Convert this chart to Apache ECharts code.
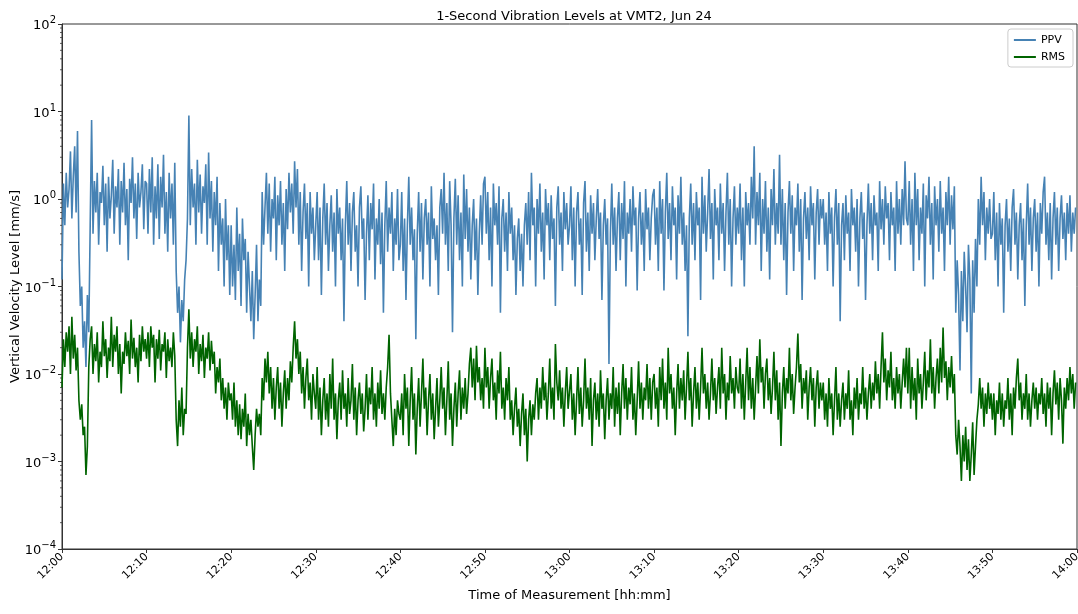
<!DOCTYPE html>
<html>
<head>
<meta charset="utf-8">
<script src="https://cdn.jsdelivr.net/npm/echarts@6/dist/echarts.min.js"></script>
<style>
  html, body { margin: 0; padding: 0; background: #fff; }
  #main { width: 1078px; height: 614px; }
</style>
</head>
<body>
<div id="main"></div>
<script>
// one reading every 10 s, 60 readings per 10-minute block
var stepSec = 10;
var blockSec = 600;

var ppv1200 = [0.12, 1.5, 0.5, 2.0, 0.8, 1.3, 3.5, 0.6, 1.8, 4.0, 0.7, 6.0, 0.25, 0.06, 0.1, 0.02, 0.04, 0.012, 0.08, 0.03, 0.5, 8.0, 0.4, 1.6, 0.7, 2.0, 0.3, 1.2, 0.9, 2.4, 0.5, 1.5, 0.25, 1.8, 0.6, 1.1, 2.8, 0.4, 1.4, 0.8, 2.2, 0.3, 1.6, 0.7, 2.6, 0.5, 1.3, 0.2, 1.7, 0.9, 3.0, 0.6, 1.5, 0.35, 2.0, 0.8, 1.2, 2.5, 0.45, 1.6];
var ppv1210 = [1.5, 0.4, 2.2, 0.7, 3.0, 0.3, 1.4, 0.6, 2.5, 0.35, 1.8, 0.8, 3.2, 0.4, 1.2, 0.25, 2.0, 0.6, 1.5, 0.3, 2.6, 0.15, 0.05, 0.1, 0.023, 0.07, 0.04, 0.12, 0.2, 0.6, 9.0, 0.5, 2.2, 0.8, 1.5, 0.3, 2.8, 0.7, 1.9, 0.4, 1.4, 0.9, 2.5, 0.3, 3.4, 0.6, 1.6, 0.25, 1.2, 0.5, 1.8, 0.15, 0.9, 0.3, 0.6, 0.1, 1.0, 0.2, 0.5, 0.08];
var ppv1220 = [0.5, 0.1, 0.3, 0.07, 0.8, 0.15, 0.4, 0.06, 0.6, 0.2, 0.35, 0.05, 0.25, 0.1, 0.04, 0.15, 0.025, 0.08, 0.3, 0.04, 0.12, 0.06, 1.2, 0.3, 0.8, 2.0, 0.4, 1.5, 0.25, 1.0, 0.6, 1.8, 0.2, 1.1, 0.5, 1.6, 0.3, 0.9, 0.15, 1.3, 0.45, 2.0, 0.7, 1.5, 0.4, 2.7, 0.8, 2.2, 0.3, 1.2, 0.15, 0.7, 1.5, 0.35, 0.9, 0.1, 1.2, 0.4, 0.8, 0.2];
var ppv1230 = [0.5, 1.2, 0.2, 0.8, 0.08, 0.6, 1.5, 0.3, 0.9, 0.15, 0.5, 1.1, 0.25, 0.7, 0.1, 1.3, 0.4, 0.8, 0.2, 0.6, 0.04, 0.5, 1.6, 0.3, 0.9, 0.15, 0.7, 1.2, 0.25, 0.5, 0.1, 0.8, 1.4, 0.35, 0.6, 0.07, 0.4, 1.1, 0.2, 0.9, 0.45, 1.5, 0.12, 0.6, 0.3, 1.0, 0.18, 0.7, 0.05, 0.5, 1.6, 0.25, 0.8, 0.4, 1.2, 0.15, 0.6, 0.3, 1.3, 0.2];
var ppv1240 = [0.3, 1.2, 0.15, 0.6, 0.07, 0.5, 1.8, 0.3, 0.8, 0.2, 0.45, 0.025, 0.4, 1.2, 0.25, 0.9, 0.12, 0.6, 1.0, 0.3, 0.7, 0.1, 1.4, 0.35, 0.6, 0.2, 0.5, 0.08, 0.8, 1.3, 0.4, 2.0, 0.3, 0.9, 0.15, 1.6, 0.5, 0.03, 0.6, 1.7, 0.3, 1.1, 0.2, 0.7, 0.1, 1.9, 0.35, 1.3, 0.25, 0.8, 0.12, 0.5, 1.0, 0.2, 0.6, 0.08, 0.4, 1.1, 0.3, 1.5];
var ppv1250 = [1.8, 0.4, 1.2, 0.2, 0.8, 0.1, 1.5, 0.5, 0.9, 0.3, 1.4, 0.05, 0.6, 1.0, 0.25, 0.7, 0.15, 1.2, 0.4, 0.8, 0.2, 0.5, 0.08, 0.35, 0.6, 0.15, 0.4, 0.1, 0.5, 0.9, 0.3, 1.2, 0.2, 2.0, 0.5, 0.8, 0.1, 1.0, 0.4, 1.5, 0.25, 0.7, 0.12, 1.3, 0.5, 0.9, 0.2, 1.1, 0.35, 0.6, 0.06, 0.8, 1.4, 0.3, 0.7, 0.15, 1.2, 0.45, 0.9, 0.3];
var ppv1300 = [0.5, 1.4, 0.2, 0.8, 0.1, 0.7, 1.2, 0.3, 0.6, 0.08, 0.9, 1.6, 0.25, 0.7, 0.15, 1.1, 0.4, 0.9, 0.2, 0.6, 1.3, 0.35, 0.7, 0.07, 0.5, 1.0, 0.3, 0.6, 0.013, 0.4, 1.5, 0.3, 0.8, 0.15, 0.6, 1.2, 0.2, 0.9, 0.35, 1.6, 0.1, 0.7, 0.4, 1.0, 0.25, 1.4, 0.5, 0.8, 0.09, 0.6, 1.2, 0.3, 0.7, 0.15, 1.3, 0.45, 0.8, 0.2, 0.6, 1.1];
var ppv1310 = [1.3, 0.3, 0.8, 0.15, 1.6, 0.4, 1.0, 0.09, 0.7, 2.0, 0.35, 0.9, 0.2, 1.4, 0.5, 0.8, 0.12, 1.1, 0.4, 1.8, 0.3, 0.7, 0.15, 0.5, 0.027, 0.6, 1.5, 0.3, 0.9, 0.2, 1.2, 0.5, 0.8, 0.07, 1.8, 0.4, 1.1, 0.25, 0.7, 2.2, 0.35, 0.9, 0.12, 1.3, 0.5, 0.8, 0.2, 1.5, 0.4, 0.9, 0.15, 0.7, 2.0, 0.3, 1.0, 0.1, 0.6, 1.4, 0.3, 0.8];
var ppv1320 = [0.4, 1.5, 0.2, 0.8, 0.1, 1.2, 0.5, 0.9, 0.3, 1.8, 0.6, 4.0, 0.3, 1.2, 0.5, 2.0, 0.15, 1.0, 0.4, 1.6, 0.25, 0.8, 0.12, 1.3, 0.5, 2.2, 0.3, 0.9, 0.4, 3.2, 0.3, 1.3, 0.2, 0.9, 0.08, 0.7, 1.6, 0.4, 1.1, 0.15, 0.8, 0.5, 1.5, 0.25, 1.0, 0.07, 0.6, 1.2, 0.35, 0.8, 0.2, 1.4, 0.5, 0.9, 0.12, 0.7, 1.3, 0.3, 1.0, 0.6];
var ppv1330 = [1.0, 0.3, 0.7, 0.15, 1.2, 0.4, 0.8, 0.1, 0.6, 1.3, 0.3, 0.9, 0.04, 0.5, 0.9, 0.2, 1.1, 0.4, 0.7, 0.15, 1.3, 0.5, 0.8, 0.25, 1.0, 0.1, 0.6, 1.2, 0.35, 0.7, 0.07, 0.5, 1.5, 0.4, 0.9, 0.2, 1.1, 0.5, 0.7, 0.15, 1.6, 0.45, 1.0, 0.3, 1.4, 0.6, 0.9, 0.2, 1.2, 0.5, 0.8, 0.15, 1.6, 0.4, 1.0, 0.3, 1.3, 0.5, 2.7, 0.6];
var ppv1340 = [0.5, 1.6, 0.3, 1.0, 0.15, 2.0, 0.5, 1.3, 0.2, 0.8, 0.4, 1.5, 0.1, 1.1, 0.6, 1.8, 0.3, 0.9, 0.12, 1.4, 0.5, 1.0, 0.25, 1.6, 0.4, 0.8, 0.15, 1.2, 0.5, 1.8, 0.3, 1.1, 0.45, 1.4, 0.05, 0.2, 0.08, 0.011, 0.15, 0.04, 0.25, 0.1, 0.03, 0.3, 0.12, 0.006, 0.2, 0.05, 0.35, 0.1, 1.0, 0.3, 1.8, 0.5, 1.2, 0.2, 0.8, 0.4, 1.0, 0.35];
var ppv1350 = [0.4, 1.2, 0.2, 0.7, 0.1, 0.9, 0.3, 0.6, 0.05, 0.5, 1.0, 0.25, 0.6, 0.15, 0.8, 1.3, 0.3, 0.7, 0.12, 0.5, 0.9, 0.2, 0.6, 0.06, 0.5, 1.5, 0.3, 0.8, 0.15, 0.6, 1.0, 0.25, 0.7, 0.1, 0.9, 0.4, 1.2, 1.8, 0.3, 0.7, 0.2, 0.9, 0.12, 0.6, 1.2, 0.3, 0.8, 0.15, 0.6, 1.1, 0.35, 0.7, 0.2, 0.9, 0.4, 1.1, 0.25, 0.7, 0.4, 0.8];

var rms1200 = [0.007, 0.025, 0.012, 0.03, 0.018, 0.035, 0.01, 0.045, 0.015, 0.028, 0.011, 0.02, 0.005, 0.003, 0.0045, 0.002, 0.0025, 0.0007, 0.0015, 0.012, 0.025, 0.035, 0.01, 0.022, 0.014, 0.03, 0.008, 0.018, 0.012, 0.04, 0.016, 0.025, 0.009, 0.02, 0.014, 0.045, 0.012, 0.028, 0.018, 0.035, 0.01, 0.022, 0.006, 0.018, 0.013, 0.03, 0.016, 0.024, 0.01, 0.042, 0.015, 0.026, 0.012, 0.02, 0.008, 0.028, 0.014, 0.035, 0.018, 0.025];
var rms1210 = [0.015, 0.03, 0.012, 0.035, 0.02, 0.028, 0.008, 0.025, 0.015, 0.032, 0.011, 0.022, 0.018, 0.03, 0.009, 0.025, 0.014, 0.02, 0.012, 0.03, 0.016, 0.003, 0.0015, 0.005, 0.0025, 0.007, 0.002, 0.004, 0.0035, 0.02, 0.055, 0.015, 0.03, 0.012, 0.025, 0.018, 0.035, 0.01, 0.022, 0.014, 0.028, 0.009, 0.02, 0.015, 0.03, 0.011, 0.024, 0.013, 0.018, 0.006, 0.012, 0.008, 0.015, 0.005, 0.009, 0.004, 0.007, 0.003, 0.008, 0.005];
var rms1220 = [0.006, 0.003, 0.008, 0.0025, 0.005, 0.002, 0.0045, 0.0018, 0.004, 0.0025, 0.006, 0.0015, 0.0035, 0.002, 0.003, 0.0015, 0.0008, 0.002, 0.004, 0.0025, 0.0035, 0.002, 0.009, 0.005, 0.015, 0.008, 0.018, 0.006, 0.012, 0.004, 0.009, 0.003, 0.007, 0.012, 0.004, 0.008, 0.0025, 0.006, 0.011, 0.004, 0.009, 0.005, 0.014, 0.008, 0.02, 0.04, 0.015, 0.025, 0.01, 0.018, 0.006, 0.012, 0.004, 0.009, 0.015, 0.005, 0.008, 0.003, 0.01, 0.006];
var rms1230 = [0.004, 0.012, 0.003, 0.007, 0.002, 0.005, 0.009, 0.003, 0.006, 0.0025, 0.01, 0.004, 0.015, 0.003, 0.006, 0.0018, 0.005, 0.008, 0.003, 0.011, 0.004, 0.006, 0.0025, 0.009, 0.0035, 0.005, 0.013, 0.003, 0.007, 0.002, 0.005, 0.008, 0.0035, 0.006, 0.0022, 0.004, 0.01, 0.003, 0.007, 0.0045, 0.012, 0.003, 0.006, 0.0025, 0.008, 0.004, 0.011, 0.0035, 0.006, 0.003, 0.007, 0.012, 0.028, 0.006, 0.003, 0.0015, 0.004, 0.002, 0.005, 0.0035];
var rms1240 = [0.003, 0.006, 0.002, 0.01, 0.004, 0.007, 0.0015, 0.005, 0.012, 0.003, 0.006, 0.0012, 0.004, 0.009, 0.0025, 0.006, 0.015, 0.004, 0.007, 0.002, 0.005, 0.01, 0.003, 0.006, 0.0018, 0.004, 0.009, 0.0025, 0.005, 0.012, 0.004, 0.007, 0.002, 0.005, 0.014, 0.003, 0.006, 0.0015, 0.004, 0.008, 0.0025, 0.006, 0.011, 0.003, 0.007, 0.004, 0.009, 0.0035, 0.006, 0.013, 0.02, 0.007, 0.015, 0.005, 0.021, 0.008, 0.012, 0.005, 0.009, 0.004];
var rms1250 = [0.02, 0.007, 0.012, 0.004, 0.009, 0.015, 0.005, 0.008, 0.003, 0.011, 0.006, 0.018, 0.004, 0.007, 0.003, 0.009, 0.005, 0.012, 0.003, 0.005, 0.002, 0.004, 0.007, 0.0025, 0.004, 0.0015, 0.0035, 0.006, 0.002, 0.004, 0.001, 0.003, 0.005, 0.002, 0.0045, 0.003, 0.006, 0.009, 0.003, 0.007, 0.004, 0.012, 0.005, 0.008, 0.003, 0.006, 0.015, 0.004, 0.007, 0.003, 0.022, 0.008, 0.005, 0.011, 0.004, 0.007, 0.0025, 0.006, 0.012, 0.004];
var rms1300 = [0.004, 0.01, 0.003, 0.006, 0.002, 0.005, 0.012, 0.0035, 0.007, 0.0025, 0.005, 0.015, 0.004, 0.007, 0.003, 0.009, 0.0015, 0.005, 0.008, 0.003, 0.006, 0.0025, 0.011, 0.004, 0.006, 0.0018, 0.005, 0.009, 0.003, 0.006, 0.004, 0.012, 0.0025, 0.007, 0.0035, 0.008, 0.002, 0.006, 0.013, 0.004, 0.009, 0.003, 0.007, 0.0045, 0.012, 0.003, 0.006, 0.002, 0.005, 0.014, 0.004, 0.008, 0.003, 0.007, 0.005, 0.013, 0.004, 0.009, 0.003, 0.008];
var rms1310 = [0.01, 0.004, 0.007, 0.0025, 0.012, 0.005, 0.015, 0.004, 0.008, 0.003, 0.02, 0.006, 0.01, 0.004, 0.007, 0.002, 0.006, 0.013, 0.004, 0.009, 0.005, 0.011, 0.003, 0.007, 0.018, 0.005, 0.009, 0.0025, 0.006, 0.012, 0.004, 0.008, 0.003, 0.007, 0.02, 0.006, 0.01, 0.004, 0.008, 0.003, 0.006, 0.015, 0.005, 0.009, 0.0035, 0.007, 0.012, 0.004, 0.02, 0.006, 0.01, 0.003, 0.008, 0.005, 0.016, 0.006, 0.009, 0.004, 0.012, 0.007];
var rms1320 = [0.006, 0.015, 0.004, 0.01, 0.003, 0.008, 0.02, 0.005, 0.012, 0.004, 0.009, 0.003, 0.007, 0.016, 0.006, 0.025, 0.008, 0.012, 0.004, 0.01, 0.015, 0.005, 0.009, 0.0035, 0.007, 0.018, 0.005, 0.011, 0.003, 0.008, 0.0015, 0.006, 0.012, 0.004, 0.009, 0.006, 0.02, 0.005, 0.01, 0.0035, 0.007, 0.012, 0.029, 0.008, 0.013, 0.004, 0.009, 0.006, 0.011, 0.003, 0.007, 0.012, 0.005, 0.009, 0.0025, 0.007, 0.011, 0.004, 0.008, 0.005];
var rms1330 = [0.008, 0.003, 0.006, 0.0025, 0.009, 0.004, 0.006, 0.002, 0.005, 0.012, 0.003, 0.006, 0.0025, 0.005, 0.008, 0.003, 0.006, 0.004, 0.011, 0.003, 0.005, 0.002, 0.007, 0.004, 0.009, 0.003, 0.006, 0.0045, 0.012, 0.004, 0.007, 0.003, 0.006, 0.01, 0.004, 0.008, 0.005, 0.014, 0.006, 0.01, 0.004, 0.012, 0.03, 0.008, 0.015, 0.005, 0.011, 0.007, 0.018, 0.005, 0.009, 0.004, 0.012, 0.006, 0.01, 0.004, 0.008, 0.015, 0.007, 0.02];
var rms1340 = [0.006, 0.02, 0.004, 0.012, 0.005, 0.009, 0.003, 0.015, 0.006, 0.01, 0.004, 0.008, 0.018, 0.005, 0.011, 0.007, 0.025, 0.006, 0.012, 0.004, 0.009, 0.015, 0.006, 0.02, 0.008, 0.034, 0.009, 0.014, 0.005, 0.012, 0.007, 0.016, 0.006, 0.01, 0.002, 0.0012, 0.003, 0.0015, 0.0006, 0.002, 0.001, 0.0025, 0.0008, 0.0018, 0.0006, 0.0012, 0.0028, 0.0007, 0.0015, 0.003, 0.0045, 0.009, 0.004, 0.007, 0.0025, 0.006, 0.0035, 0.008, 0.004, 0.006];
var rms1350 = [0.003, 0.006, 0.002, 0.005, 0.0035, 0.008, 0.003, 0.006, 0.0025, 0.005, 0.004, 0.009, 0.003, 0.006, 0.002, 0.007, 0.004, 0.009, 0.015, 0.005, 0.008, 0.003, 0.006, 0.004, 0.01, 0.003, 0.006, 0.0025, 0.005, 0.008, 0.004, 0.007, 0.003, 0.006, 0.0045, 0.009, 0.0035, 0.006, 0.0025, 0.008, 0.004, 0.007, 0.002, 0.006, 0.011, 0.0045, 0.008, 0.003, 0.009, 0.005, 0.0016, 0.007, 0.004, 0.009, 0.005, 0.012, 0.006, 0.01, 0.004, 0.008];

var timeTicks = ['12:00', '12:10', '12:20', '12:30', '12:40', '12:50', '13:00', '13:10', '13:20', '13:30', '13:40', '13:50', '14:00'];

var ppvBlocks = [ppv1200, ppv1210, ppv1220, ppv1230, ppv1240, ppv1250,
                 ppv1300, ppv1310, ppv1320, ppv1330, ppv1340, ppv1350];
var rmsBlocks = [rms1200, rms1210, rms1220, rms1230, rms1240, rms1250,
                 rms1300, rms1310, rms1320, rms1330, rms1340, rms1350];

// seconds since 12:00 for each reading
function toPoints(blocks) {
  var out = [];
  blocks.forEach(function (blk, b) {
    blk.forEach(function (v, i) { out.push([b * blockSec + i * stepSec, v]); });
  });
  return out;
}

// log minor ticks 2..9 x 10^n
var minorTicks = [];
for (var e = -4; e < 2; e++) {
  for (var m = 2; m <= 9; m++) minorTicks.push([0, m * Math.pow(10, e)]);
}

var font = 'DejaVu Sans';
var dom = document.getElementById('main');
var myChart = echarts.init(dom, null, { renderer: 'canvas' });

var option = {
  animation: false,
  backgroundColor: '#fff',
  textStyle: { fontFamily: font },
  title: {
    text: '1-Second Vibration Levels at VMT2, Jun 24',
    left: 569, top: 5, textAlign: 'center',
    textStyle: { fontFamily: font, fontSize: 13, fontWeight: 'normal', color: '#000' }
  },
  legend: {
    data: ['PPV', 'RMS'],
    orient: 'vertical',
    right: 5, top: 29,
    icon: 'rect',
    itemWidth: 22, itemHeight: 2, itemGap: 5,
    padding: [5, 8, 4, 6],
    borderColor: '#ccc', borderWidth: 1, borderRadius: 3,
    textStyle: { fontFamily: font, fontSize: 11, color: '#000', lineHeight: 12 }
  },
  grid: {
    left: 62, right: 1, top: 24, bottom: 65,
    show: true, borderColor: '#333', borderWidth: 1,
    outerBoundsMode: 'none'
  },
  xAxis: {
    type: 'value',
    min: 0, max: 7200, interval: 600,
    name: 'Time of Measurement [hh:mm]',
    nameLocation: 'middle', nameGap: 40,
    nameMoveOverlap: false,
    nameTextStyle: { fontFamily: font, fontSize: 13, color: '#000' },
    axisLine: { onZero: false, lineStyle: { color: '#333' } },
    axisTick: { length: 4, lineStyle: { color: '#333' } },
    splitLine: { show: false },
    axisLabel: {
      rotate: 45, fontSize: 11, color: '#000', margin: 6, fontFamily: font,
      formatter: function (v) { return timeTicks[Math.round(v / 600)]; }
    }
  },
  yAxis: {
    type: 'log', logBase: 10,
    min: 0.0001, max: 100,
    name: 'Vertical Velocity Level [mm/s]',
    nameLocation: 'middle', nameGap: 40,
    nameMoveOverlap: false,
    nameTextStyle: { fontFamily: font, fontSize: 13, color: '#000' },
    axisLine: { show: true, lineStyle: { color: '#333' } },
    axisTick: { show: true, length: 4, lineStyle: { color: '#333' } },
    splitLine: { show: false },
    axisLabel: {
      color: '#000', margin: 6, fontFamily: font,
      formatter: function (v) {
        var ex = Math.round(Math.log10(v));
        return '{b|10}{s|' + String(ex).replace('-', '\u2212') + '}';
      },
      rich: {
        b: { fontSize: 13, fontFamily: font, color: '#000', lineHeight: 17, verticalAlign: 'bottom' },
        s: { fontSize: 10, fontFamily: font, color: '#000', lineHeight: 17, verticalAlign: 'top' }
      }
    }
  },
  series: [
    {
      name: 'PPV', type: 'line', symbol: 'none',
      data: toPoints(ppvBlocks),
      lineStyle: { color: '#4682b4', width: 1.6 },
      itemStyle: { color: '#4682b4' },
      z: 2
    },
    {
      name: 'RMS', type: 'line', symbol: 'none',
      data: toPoints(rmsBlocks),
      lineStyle: { color: '#006400', width: 1.6 },
      itemStyle: { color: '#006400' },
      z: 3
    },
    {
      name: 'minor', type: 'custom', silent: true, clip: false,
      data: minorTicks,
      renderItem: function (params, api) {
        var p = api.coord([0, api.value(1)]);
        return {
          type: 'line',
          shape: { x1: p[0] - 2, y1: p[1], x2: p[0], y2: p[1] },
          style: { stroke: '#333', lineWidth: 0.8 }
        };
      }
    }
  ]
};

if (option && typeof option === 'object') {
  myChart.setOption(option);
}
window.addEventListener('resize', myChart.resize);
</script>
</body>
</html>
